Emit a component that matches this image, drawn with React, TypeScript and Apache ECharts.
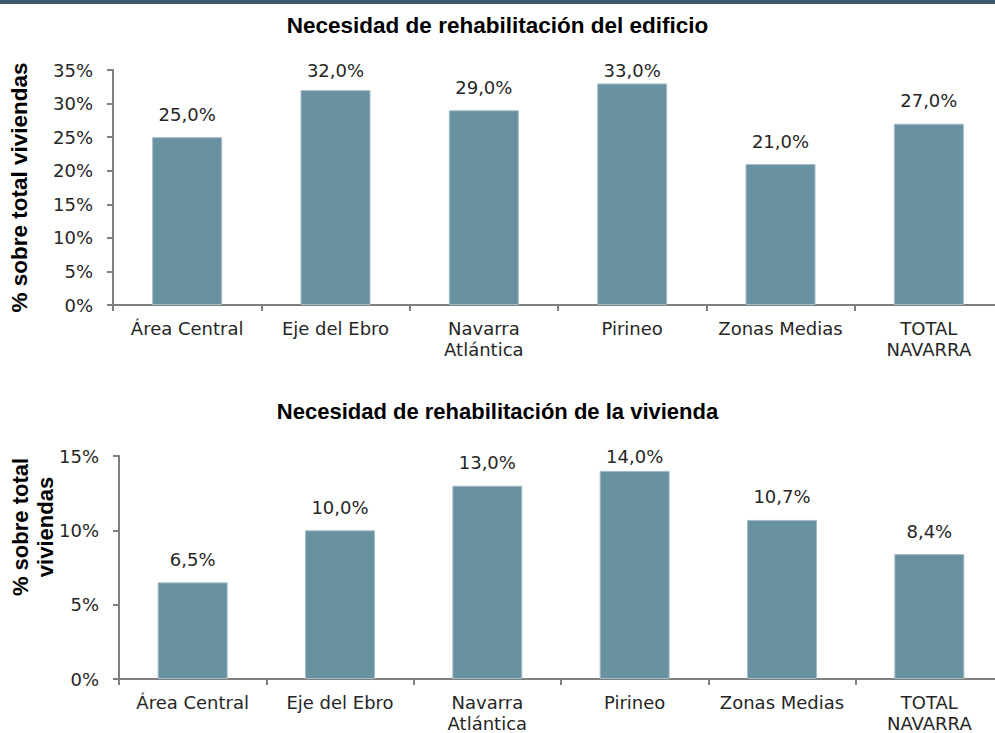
import React, { useEffect, useRef } from "react";
import * as echarts from "echarts";

const categories = ["Área Central", "Eje del Ebro", "Navarra\nAtlántica", "Pirineo", "Zonas Medias", "TOTAL\nNAVARRA"];
const edificioValues = [25.0, 32.0, 29.0, 33.0, 21.0, 27.0];
const viviendaValues = [6.5, 10.0, 13.0, 14.0, 10.7, 8.4];
const edificioTicks = { min: 0, max: 35, interval: 5 };
const viviendaTicks = { min: 0, max: 15, interval: 5 };
const titles = ["Necesidad de rehabilitación del edificio", "Necesidad de rehabilitación de la vivienda"];
const yNames = ["% sobre total viviendas", "% sobre total\nviviendas"];

const BAR = "#6891a2";
const AXIS = "#7f7f7f";
const TXT = "#262626";
const LABEL_FONT = "DejaVu Sans, sans-serif";
const BOLD_FONT = "Liberation Sans, Arial, sans-serif";

const fmt = (v: number) => v.toFixed(1).replace(".", ",") + "%";

export default function App() {
  const ref = useRef<HTMLDivElement>(null);
  useEffect(() => {
    if (!ref.current) return;
    const chart = echarts.init(ref.current, null, { renderer: "svg" });
    const grids = [
      { left: 113, top: 70, width: 890, height: 235, outerBoundsMode: "none" },
      { left: 119, top: 456, width: 884, height: 223, outerBoundsMode: "none" },
    ];
    const xAxisBase = (gi: number) => ({
      type: "category" as const,
      gridIndex: gi,
      data: categories,
      boundaryGap: true,
      axisLine: { lineStyle: { color: AXIS, width: 2 } },
      axisTick: { show: true, length: 6, lineStyle: { color: AXIS, width: 2 } },
      axisLabel: { color: TXT, fontFamily: LABEL_FONT, fontSize: 18, margin: 13, lineHeight: 21, interval: 0 },
    });
    const yAxisBase = (gi: number, t: { min: number; max: number; interval: number }) => ({
      type: "value" as const,
      gridIndex: gi,
      min: t.min,
      max: t.max,
      interval: t.interval,
      splitLine: { show: false },
      axisLine: { show: true, lineStyle: { color: AXIS, width: 2 } },
      axisTick: { show: true, length: 6, lineStyle: { color: AXIS, width: 2 } },
      axisLabel: { color: TXT, fontFamily: LABEL_FONT, fontSize: 18, margin: 20, formatter: (v: number) => v + "%" },
    });
    const seriesBase = (gi: number, data: number[]) => ({
      type: "bar" as const,
      xAxisIndex: gi,
      yAxisIndex: gi,
      data,
      barWidth: 70,
      itemStyle: { color: BAR, borderColor: "#a6bcc7", borderWidth: 1 },
      label: {
        show: true,
        position: "top" as const,
        distance: 14,
        color: TXT,
        fontFamily: LABEL_FONT,
        fontSize: 18,
        formatter: (p: any) => fmt(p.value),
      },
    });
    chart.setOption({
      animation: false,
      backgroundColor: "#ffffff",
      title: [
        { text: titles[0], left: "center", top: 9, textStyle: { fontFamily: BOLD_FONT, fontWeight: "bold", fontSize: 22.5, color: "#000" } },
        { text: titles[1], left: "center", top: 395, textStyle: { fontFamily: BOLD_FONT, fontWeight: "bold", fontSize: 22, color: "#000" } },
      ],
      grid: grids,
      xAxis: [xAxisBase(0), xAxisBase(1)],
      yAxis: [
        {
          ...yAxisBase(0, edificioTicks),
          name: yNames[0],
          nameLocation: "middle",
          nameGap: 82,
          nameTextStyle: { fontFamily: BOLD_FONT, fontWeight: "bold", fontSize: 22.5, color: "#000" },
        },
        yAxisBase(1, viviendaTicks),
      ],
      series: [seriesBase(0, edificioValues), seriesBase(1, viviendaValues)],
      labelLayout: (params: any) => {
        const top = grids[params.seriesIndex].top;
        const r = params.labelRect;
        const cy = r.y + r.height / 2;
        if (cy < top) {
          return { x: r.x + r.width / 2, y: top, align: "center", verticalAlign: "middle" };
        }
        return {};
      },
      graphic: [
        { type: "rect", left: 0, top: 0, shape: { width: 995, height: 4 }, style: { fill: "#3f5a6f" } },
        {
          type: "text",
          x: 33,
          y: 527,
          rotation: Math.PI / 2,
          style: {
            text: yNames[1],
            align: "center",
            verticalAlign: "middle",
            font: "bold 22px Liberation Sans, Arial, sans-serif",
            lineHeight: 25,
            fill: "#000",
          },
        },
      ],
    });
    return () => chart.dispose();
  }, []);
  return <div ref={ref} style={{ position: "fixed", left: 0, top: 0, width: 995, height: 733 }} />;
}
